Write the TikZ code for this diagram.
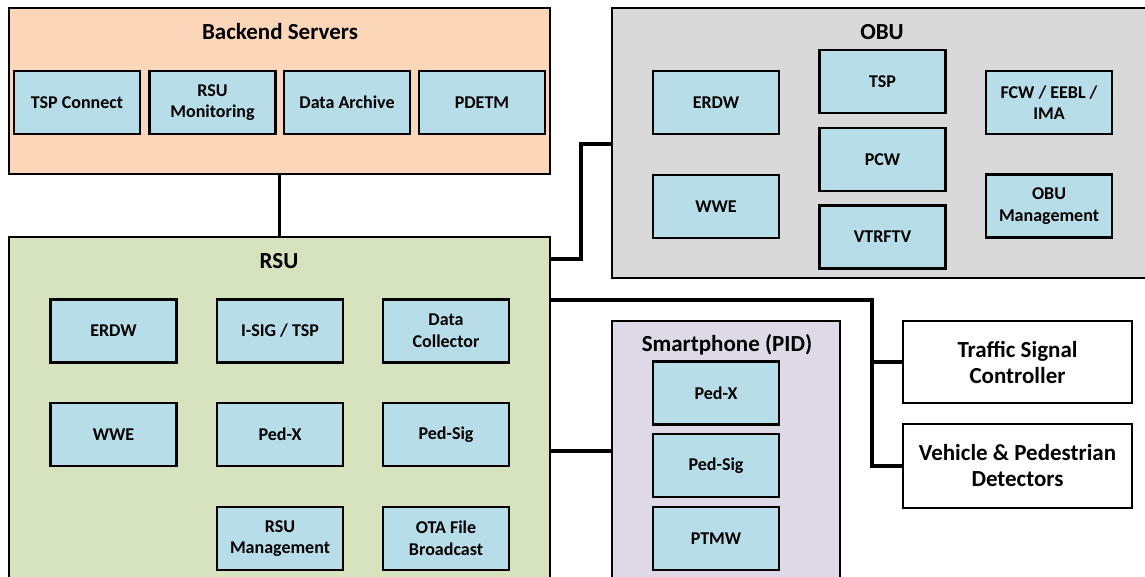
\documentclass[tikz,border=0pt]{standalone}
\usepackage{fontspec}
\setmainfont{Carlito}
\usetikzlibrary{calc}
\definecolor{peach}{HTML}{FBD6B8}
\definecolor{olive}{HTML}{D7E3BF}
\definecolor{greybox}{HTML}{D9D9D9}
\definecolor{lilac}{HTML}{DFD8E7}
\definecolor{bluebox}{HTML}{B7DDE8}
\tikzset{
  container/.style={draw=black, line width=1.5pt, rectangle, inner sep=0pt},
  title/.style={font=\fontsize{17.25}{19.5}\selectfont\bfseries, align=center, inner sep=0pt},
  module/.style={draw=black, line width=1.6pt, fill=bluebox, rectangle, inner sep=0pt,
    minimum width=94.5pt, minimum height=47.25pt, align=center,
    font=\fontsize{13.5}{16.2}\selectfont\bfseries},
  device/.style={draw=black, line width=1.6pt, fill=white, rectangle, inner sep=0pt,
    minimum width=171.75pt, align=center,
    font=\fontsize{17.25}{19.5}\selectfont\bfseries},
  conn/.style={draw=black, line width=2.3pt}
}
\begin{document}
\begin{tikzpicture}[x=0.75pt,y=-0.75pt]
\useasboundingbox (0,0) rectangle (1145,577);
\clip (0,0) rectangle (1145,577);
\fill[white] (0,0) rectangle (1145,577);

% containers
\node[container, fill=peach, minimum width=405.75pt, minimum height=124.5pt] (backend) at (279.5,91) {};
\node[container, fill=olive, minimum width=405.75pt, minimum height=272.25pt] (rsu) at (279.5,418.5) {};
\node[container, fill=greybox, minimum width=411pt, minimum height=202.5pt] (obu) at (886,143) {};
\node[container, fill=lilac, minimum width=171pt, minimum height=209.25pt] (phone) at (726,460.5) {};

% titles
\node[title] (tbackend) at (280,32) {Backend Servers};
\node[title] (trsu) at (279,261) {RSU};
\node[title] (tobu) at (882,32) {OBU};
\node[title] (tphone) at (727,345) {Smartphone (PID)};

% backend modules
\node[module] (b1) at (77,102.5) {TSP Connect};
\node[module] (b2) at (212.5,102.5) {RSU\\Monitoring};
\node[module] (b3) at (347,102.5) {Data Archive};
\node[module] (b4) at (482,102.5) {PDETM};

% RSU modules
\node[module] (r1) at (113.5,331) {ERDW};
\node[module] (r2) at (280,331) {I-SIG / TSP};
\node[module] (r3) at (446,331) {Data\\Collector};
\node[module] (r4) at (113.5,434.5) {WWE};
\node[module] (r5) at (280,434.5) {Ped-X};
\node[module] (r6) at (446,434.5) {Ped-Sig};
\node[module] (r7) at (280,538.5) {RSU\\Management};
\node[module] (r8) at (446,538.5) {OTA File\\Broadcast};

% OBU modules
\node[module] (o1) at (716,102.5) {ERDW};
\node[module] (o2) at (716,206.5) {WWE};
\node[module] (o3) at (882.5,81.5) {TSP};
\node[module] (o4) at (882.5,159.5) {PCW};
\node[module] (o5) at (882.5,237) {VTRFTV};
\node[module] (o6) at (1049,102.5) {FCW / EEBL /\\IMA};
\node[module] (o7) at (1049,206) {OBU\\Management};

% smartphone modules
\node[module] (p1) at (716,393) {Ped-X};
\node[module] (p2) at (716,465.5) {Ped-Sig};
\node[module] (p3) at (716,538.5) {PTMW};

% field devices
\node[device, minimum height=61.5pt] (tsc) at (1017.5,362) {Traffic Signal\\Controller};
\node[device, minimum height=63pt] (vpd) at (1017.5,466) {Vehicle \& Pedestrian\\Detectors};

% connectors
\draw[conn] (backend.south) -- (rsu.north);
\coordinate (jobu) at (581,259);
\draw[conn] (rsu.east |- jobu) -- (jobu) |- (obu.west |- 0,144);
\coordinate (bus) at (872,300);
\draw[conn] (rsu.east |- bus) -- (bus) |- (vpd.west);
\draw[conn] (bus |- tsc.west) -- (tsc.west);
\draw[conn] (rsu.east |- 0,451) -- (phone.west |- 0,451);
\end{tikzpicture}
\end{document}
